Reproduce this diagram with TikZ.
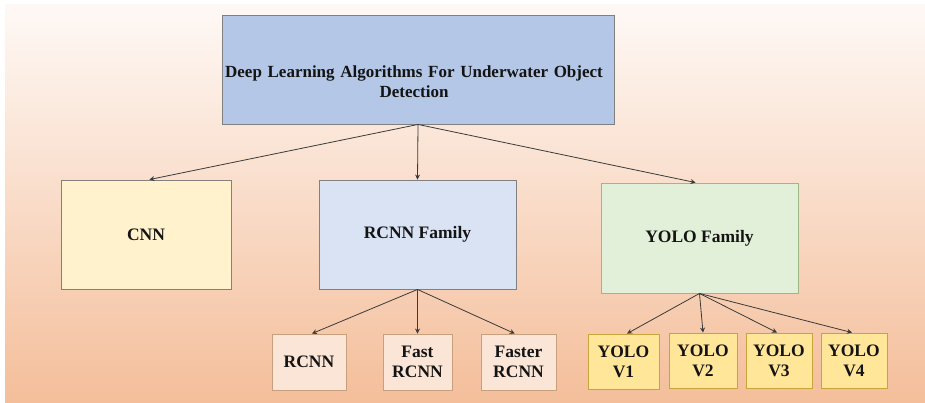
\documentclass[tikz,border=0pt]{standalone}
\usepackage{fontspec}
\setmainfont{Liberation Serif}
\usetikzlibrary{arrows.meta,calc}

\definecolor{bgtop}{HTML}{FEF9F6}
\definecolor{bgbot}{HTML}{F4BE9A}
\definecolor{rootfill}{HTML}{B4C7E7}
\definecolor{cnnfill}{HTML}{FFF2CC}
\definecolor{rcnnfill}{HTML}{DAE3F3}
\definecolor{yolofill}{HTML}{E2F0D9}
\definecolor{yoloedge}{HTML}{9DB886}
\definecolor{smallfill}{HTML}{FBE5D6}
\definecolor{smalledge}{HTML}{C8A07E}
\definecolor{verfill}{HTML}{FFE699}
\definecolor{veredge}{HTML}{C9A43A}
\definecolor{greyedge}{HTML}{808080}
\definecolor{ink}{HTML}{141414}
\definecolor{wire}{HTML}{3A3A3A}

\tikzset{
  lbl/.style={inner sep=2pt, align=center,
    font=\fontsize{17.5}{20}\selectfont\bfseries, text=ink},
  box/.style={lbl, draw, line width=0.9pt},
  rootbox/.style={box, fill=rootfill, draw=greyedge},
  cnnbox/.style={box, fill=cnnfill, draw=greyedge!90!brown},
  famrbox/.style={box, fill=rcnnfill, draw=greyedge},
  famybox/.style={box, fill=yolofill, draw=yoloedge},
  subrbox/.style={box, fill=smallfill, draw=smalledge},
  subybox/.style={box, fill=verfill, draw=veredge},
  link/.style={draw=wire, line width=0.8pt,
    -{Stealth[length=5pt,width=5pt]}}
}

\begin{document}
\begin{tikzpicture}[x=1pt, y=-1pt]
  \useasboundingbox (0,0) rectangle (925,402);
  \fill[white] (0,0) rectangle (925,402);
  \shade[top color=bgtop, bottom color=bgbot] (5,4) rectangle (925,402);

  % root box and its title, set a little below the middle
  \node[rootbox, minimum width=392pt, minimum height=109pt] (root) at (418,69.5) {};
  \node[lbl, text width=420pt, font=\fontsize{17}{19.5}\selectfont\bfseries]
    (roottitle) at (414,81.5)
    {Deep Learning Algorithms For Underwater Object\\Detection};

  % second level
  \node[cnnbox, minimum width=170pt, minimum height=109pt] (cnn) at (146,234.5) {CNN};
  \node[famrbox, minimum width=197pt, minimum height=109pt] (rfam) at (417.5,234.5) {RCNN Family};
  \node[famybox, minimum width=197pt, minimum height=110pt] (yfam) at (699.5,238) {YOLO Family};

  % RCNN members
  \node[subrbox, minimum width=74pt, minimum height=56pt] (rcnn) at (309,362) {RCNN};
  \node[subrbox, minimum width=69pt, minimum height=56pt] (fast) at (417.5,362) {Fast\\RCNN};
  \node[subrbox, minimum width=75pt, minimum height=56pt] (faster) at (518.5,362) {Faster\\RCNN};

  % YOLO members
  \node[subybox, minimum width=71pt, minimum height=55pt] (v1) at (623.5,361.5) {YOLO\\V1};
  \node[subybox, minimum width=68pt, minimum height=55pt] (v2) at (703,360.5) {YOLO\\V2};
  \node[subybox, minimum width=66pt, minimum height=55pt] (v3) at (779,360.5) {YOLO\\V3};
  \node[subybox, minimum width=66pt, minimum height=55pt] (v4) at (854,360.5) {YOLO\\V4};

  % connectors
  \draw[link] (root.south) -- ($(cnn.north west)!0.52!(cnn.north east)$);
  \draw[link] (root.south) -- (rfam.north);
  \draw[link] (root.south) -- ($(yfam.north west)!0.48!(yfam.north east)$);

  \draw[link] (rfam.south) -- ($(rcnn.north west)!0.54!(rcnn.north east)$);
  \draw[link] (rfam.south) -- (fast.north);
  \draw[link] (rfam.south) -- ($(faster.north west)!0.45!(faster.north east)$);

  \draw[link] (yfam.south) -- ($(v1.north west)!0.55!(v1.north east)$);
  \draw[link] (yfam.south) -- ($(v2.north west)!0.5!(v2.north east)$);
  \draw[link] (yfam.south) -- ($(v3.north west)!0.47!(v3.north east)$);
  \draw[link] (yfam.south) -- ($(v4.north west)!0.47!(v4.north east)$);
\end{tikzpicture}
\end{document}
